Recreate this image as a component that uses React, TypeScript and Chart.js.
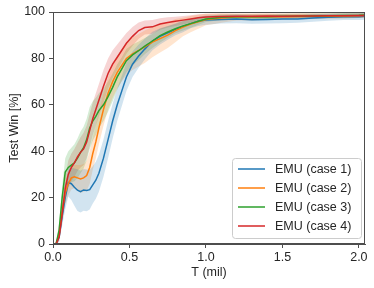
import { useEffect, useRef } from 'react';
import { Chart, registerables } from 'chart.js';
Chart.register(...registerables);

const T = [0, 0.02, 0.04, 0.06, 0.08, 0.1, 0.12, 0.14, 0.16, 0.18, 0.2, 0.22, 0.24, 0.26, 0.28, 0.3, 0.33, 0.36, 0.39, 0.42, 0.45, 0.48, 0.52, 0.56, 0.6, 0.65, 0.7, 0.75, 0.8, 0.85, 0.9, 0.95, 1.0, 1.1, 1.2, 1.3, 1.4, 1.5, 1.6, 1.7, 1.8, 1.9, 2.0, 2.04];

const case1 = [0, 0, 3, 12, 20, 26.5, 26, 24.5, 23.2, 22.6, 23.3, 23.1, 23.4, 25.5, 27.5, 30.5, 37, 45, 53, 60, 66, 72, 77.5, 81, 84, 87.5, 89.5, 91, 92.5, 93.8, 95, 96, 96.5, 96.8, 97, 96.7, 96.8, 97, 97, 97.4, 97.7, 98, 98, 98.2];
const case1Spread = [0, 0, 2, 4, 5, 6, 7, 8, 9, 9, 9, 9, 8.5, 8, 8, 8, 8, 8, 7.5, 7, 6.5, 6, 5.5, 5, 4.5, 4, 3.5, 3, 2.5, 2.5, 2, 2, 2, 1.8, 1.8, 1.8, 1.8, 1.8, 1.6, 1.6, 1.5, 1.5, 1.5, 1.5];

const case2 = [0, 0, 4, 14, 22, 26, 28.5, 29, 28.5, 28, 28.5, 29.5, 33, 39, 44, 50, 58, 65, 70, 74, 77, 80, 82, 83.5, 85, 87, 88.5, 90, 92, 93.5, 94.8, 95.8, 96.8, 97.4, 97.8, 97.8, 98, 98, 98.1, 98.2, 98.2, 98.3, 98.4, 98.5];
const case2Spread = [0, 0, 2, 4, 5, 5, 5, 5, 5.5, 6, 6, 6.5, 7, 7, 7, 7, 7, 7, 7, 7, 7, 7, 7, 7, 7, 6.5, 6, 5.5, 5, 4, 3.5, 3, 2.5, 2, 1.5, 1.5, 1.3, 1.3, 1.2, 1.2, 1.2, 1.2, 1, 1];

const case3 = [0, 0, 6, 20, 31, 33, 34, 35, 37, 39.5, 41.5, 45, 50, 53, 55, 57.5, 60, 63.5, 67.5, 72, 75.5, 79, 81.5, 83.3, 85.3, 87.5, 89.8, 91.4, 92.8, 94, 95, 96, 97, 97.7, 98, 98, 98, 98.2, 98.2, 98.3, 98.4, 98.5, 98.6, 98.7];
const case3Spread = [0, 0, 3, 5, 6, 7, 7.5, 8, 8.5, 9, 9, 9, 9, 8.5, 8, 7.5, 7, 6.5, 6, 5.5, 5, 5, 4.5, 4, 3.5, 3, 3, 2.5, 2, 2, 1.8, 1.5, 1.3, 1.2, 1, 1, 1, 1, 1, 1, 1, 1, 1, 1];

const case4 = [0, 0, 3, 13, 24, 30, 33, 35, 37.5, 39.5, 41, 44, 49, 54, 58, 62, 68, 73.5, 77.5, 80.5, 83.5, 86.5, 89.5, 92, 93.3, 93.6, 94.8, 95.5, 96, 96.5, 97, 97.5, 97.8, 98.1, 98.2, 98.2, 98.3, 98.2, 98.3, 98.3, 98.4, 98.4, 98.5, 98.5];
const case4Spread = [0, 0, 2, 4, 5, 6, 6, 6, 6, 6.5, 7, 7, 7, 7, 7, 7, 7, 6.5, 6, 5.5, 5, 4.5, 4, 3.5, 3, 3, 2.5, 2.2, 2, 1.8, 1.6, 1.5, 1.3, 1.2, 1, 1, 1, 1, 1, 1, 1, 1, 1, 1];

const seriesNames = ['EMU (case 1)', 'EMU (case 2)', 'EMU (case 3)', 'EMU (case 4)'];
const lineColors = ['#1f77b4', '#ff7f0e', '#2ca02c', '#d62728'];
const bandColors = ['rgba(31,119,180,0.2)', 'rgba(255,127,14,0.2)', 'rgba(44,160,44,0.2)', 'rgba(214,39,40,0.2)'];
const xTicks = [0, 0.5, 1.0, 1.5, 2.0];
const yTicks = [0, 20, 40, 60, 80, 100];

const FONT = "'Liberation Sans', Arial, sans-serif";
const FS = 12.5;
const TEXT = '#262626';
const AXIS = '#4d4d4d';

export default function App() {
  const ref = useRef<HTMLCanvasElement>(null);
  useEffect(() => {
    document.body.style.margin = '0';
    const means = [case1, case2, case3, case4];
    const spreads = [case1Spread, case2Spread, case3Spread, case4Spread];
    const datasets: any[] = [];
    means.forEach((m, i) => {
      datasets.push({
        data: T.map((x, j) => ({ x, y: m[j] + spreads[i][j] })),
        borderWidth: 0, borderColor: 'transparent', pointRadius: 0,
        backgroundColor: bandColors[i], fill: '+1', order: 10,
      });
      datasets.push({
        data: T.map((x, j) => ({ x, y: Math.max(0, m[j] - spreads[i][j]) })),
        borderWidth: 0, borderColor: 'transparent', pointRadius: 0,
        fill: false, order: 10,
      });
    });
    means.forEach((m, i) => {
      datasets.push({
        data: T.map((x, j) => ({ x, y: m[j] })),
        borderColor: lineColors[i], borderWidth: 1.5, pointRadius: 0,
        fill: false, order: 4 - i,
      });
    });

    const framePlugin = {
      id: 'frameLegend',
      afterDraw(chart: any) {
        const { ctx, chartArea: a } = chart;
        ctx.save();
        ctx.strokeStyle = AXIS;
        ctx.lineWidth = 1;
        ctx.strokeRect(Math.round(a.left) + 0.5, Math.round(a.top) + 0.5, Math.round(a.right - a.left) - 1, Math.round(a.bottom - a.top) - 1);
        // legend
        const bx = 232.5, by = 158.5, bw = 129, bh = 80, r = 3;
        ctx.beginPath();
        ctx.moveTo(bx + r, by);
        ctx.arcTo(bx + bw, by, bx + bw, by + bh, r);
        ctx.arcTo(bx + bw, by + bh, bx, by + bh, r);
        ctx.arcTo(bx, by + bh, bx, by, r);
        ctx.arcTo(bx, by, bx + bw, by, r);
        ctx.closePath();
        ctx.fillStyle = 'rgba(255,255,255,0.85)';
        ctx.fill();
        ctx.strokeStyle = '#cccccc';
        ctx.stroke();
        ctx.font = `${FS}px ${FONT}`;
        ctx.textBaseline = 'middle';
        ctx.textAlign = 'left';
        seriesNames.forEach((n, i) => {
          const y = 169 + i * 19;
          ctx.strokeStyle = lineColors[i];
          ctx.lineWidth = 1.5;
          ctx.beginPath();
          ctx.moveTo(238, y);
          ctx.lineTo(265, y);
          ctx.stroke();
          ctx.fillStyle = TEXT;
          ctx.fillText(n, 275, y + 0.5);
        });
        ctx.restore();
      },
    };

    const chart = new Chart(ref.current!, {
      type: 'line',
      data: { datasets },
      options: {
        animation: false,
        responsive: false,
        devicePixelRatio: 1,
        layout: { padding: { top: 12, right: 9, left: 0, bottom: 0 } },
        plugins: { legend: { display: false }, tooltip: { enabled: false } },
        elements: { line: { tension: 0 } },
        scales: {
          x: {
            type: 'linear', min: 0, max: 2.04,
            afterBuildTicks: (s: any) => { s.ticks = xTicks.map((v) => ({ value: v })); },
            afterFit: (s: any) => { s.height = 44; },
            ticks: { callback: (v: any) => Number(v).toFixed(1), font: { family: FONT, size: FS }, color: TEXT, padding: 2, maxRotation: 0 },
            grid: { display: true, drawOnChartArea: false, drawTicks: true, tickLength: 4, tickColor: AXIS },
            border: { display: true, color: AXIS },
            title: { display: true, text: 'T (mil)', font: { family: FONT, size: FS }, color: TEXT, padding: { top: 0, bottom: 7.5 } },
          },
          y: {
            type: 'linear', min: 0, max: 100,
            afterBuildTicks: (s: any) => { s.ticks = yTicks.map((v) => ({ value: v })); },
            afterFit: (s: any) => { s.width = 53; },
            ticks: { font: { family: FONT, size: FS }, color: TEXT, padding: 4 },
            grid: { display: true, drawOnChartArea: false, drawTicks: true, tickLength: 4, tickColor: AXIS },
            border: { display: true, color: AXIS },
            title: { display: true, text: 'Test Win [%]', font: { family: FONT, size: FS }, color: TEXT, padding: { top: 7.2, bottom: 0 } },
          },
        },
      },
      plugins: [framePlugin],
    });
    return () => chart.destroy();
  }, []);
  return (
    <div style={{ width: 374, height: 288, background: '#fff' }}>
      <canvas ref={ref} width={374} height={288} style={{ display: 'block' }} />
    </div>
  );
}
